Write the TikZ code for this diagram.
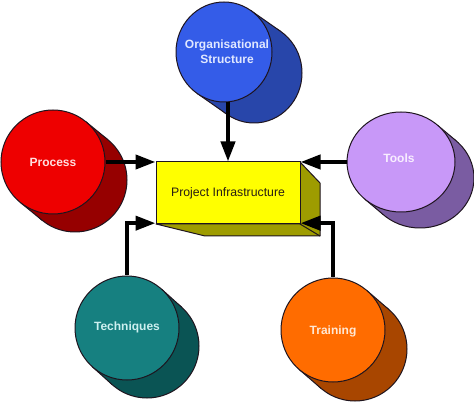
\documentclass[tikz,border=0pt]{standalone}
\usepackage{fontspec}
\setmainfont{Liberation Sans}
\usetikzlibrary{shapes.geometric,arrows.meta,calc}
\definecolor{bluef}{RGB}{52,92,232}
\definecolor{blueb}{RGB}{40,70,170}
\definecolor{redf}{RGB}{238,0,0}
\definecolor{redb}{RGB}{150,0,0}
\definecolor{purf}{RGB}{200,152,248}
\definecolor{purb}{RGB}{122,92,162}
\definecolor{tealf}{RGB}{22,128,128}
\definecolor{tealb}{RGB}{10,84,84}
\definecolor{oraf}{RGB}{255,108,0}
\definecolor{orab}{RGB}{168,70,0}
\definecolor{yelf}{RGB}{255,255,0}
\definecolor{yelb}{RGB}{158,156,0}
\definecolor{edge}{RGB}{30,20,30}
\newcommand\cylback[7]{%
  \pgfmathsetmacro\cylT{atan2(-#4*#5,#3*#6)}%
  \pgfmathsetmacro\cylAx{#1+#3*cos(\cylT)}%
  \pgfmathsetmacro\cylAy{#2+#4*sin(\cylT)}%
  \pgfmathsetmacro\cylBx{#1-#3*cos(\cylT)}%
  \pgfmathsetmacro\cylBy{#2-#4*sin(\cylT)}%
  \filldraw[fill=#7,draw=edge,line width=0.75pt] (#1+#5,#2+#6) ellipse [x radius=#3, y radius=#4];
  \fill[#7] (\cylAx,\cylAy) -- (\cylAx+#5,\cylAy+#6) -- (\cylBx+#5,\cylBy+#6) -- (\cylBx,\cylBy) -- cycle;
  \draw[edge,line width=0.75pt] (\cylAx,\cylAy) -- (\cylAx+#5,\cylAy+#6) (\cylBx,\cylBy) -- (\cylBx+#5,\cylBy+#6);
}
\tikzset{
  frontdisc/.style={ellipse, draw=edge, line width=0.75pt, inner sep=0pt},
  disclabel/.style={font=\fontsize{9}{11.25}\selectfont\bfseries, align=center},
  arr/.style={line width=3pt, line join=miter, -{Triangle[length=15pt,width=10.5pt]}},
}
\begin{document}
\begin{tikzpicture}[x=0.75pt,y=-0.75pt]
\useasboundingbox (0,0) rectangle (474,402);
% backs
\cylback{224}{52}{48}{50}{30}{21}{blueb}
\cylback{53}{162}{52}{52}{22}{18}{redb}
\cylback{401}{162}{54}{50}{19}{16}{purb}
\cylback{127}{328}{52}{52}{20}{18}{tealb}
\cylback{333}{330}{52}{52}{22}{19}{orab}
% fronts
\node[frontdisc, fill=bluef, minimum width=72pt, minimum height=75pt] (org) at (224,52) {};
\node[frontdisc, fill=redf, minimum width=78pt, minimum height=78pt] (proc) at (53,162) {};
\node[frontdisc, fill=purf, minimum width=81pt, minimum height=75pt] (tools) at (401,162) {};
\node[frontdisc, fill=tealf, minimum width=78pt, minimum height=78pt] (tech) at (127,328) {};
\node[frontdisc, fill=oraf, minimum width=78pt, minimum height=78pt] (train) at (333,330) {};
% labels
\node[disclabel, text={rgb,255:red,225;green,232;blue,255}] (orgt) at (227,52) {Organisational\\Structure};
\node[disclabel, text={rgb,255:red,255;green,222;blue,222}] (proct) at (53,162) {Process};
\node[disclabel, text={rgb,255:red,248;green,238;blue,255}] (toolst) at (399,158) {Tools};
\node[disclabel, text={rgb,255:red,205;green,240;blue,240}] (techt) at (127,327) {Techniques};
\node[disclabel, text={rgb,255:red,255;green,232;blue,212}] (traint) at (333,331) {Training};
% box extrusion
\filldraw[fill=yelb, draw=edge, line width=0.75pt, line join=round] (156,224) -- (205,236) -- (320,236) -- (320,183) -- (300,162) -- (300,224) -- cycle;
\draw[edge, line width=0.75pt] (300,224) -- (320,236);
\node[draw=edge, fill=yelf, line width=0.75pt, minimum width=108pt, minimum height=46.5pt, inner sep=0pt, font=\fontsize{9.2}{11}\selectfont, text={rgb,255:red,40;green,30;blue,20}] (box) at (228,193) {Project Infrastructure};
% arrows
\draw[arr] (org.south -| box.north) -- (box.north);
\draw[arr] (proc.east) -- (proc.east -| box.west);
\draw[arr] (tools.west) -- (tools.west -| box.east);
\draw[arr] (tech.north) |- ([yshift=1pt]box.south west);
\draw[arr] (train.north) |- ([yshift=1pt]box.south east);
\end{tikzpicture}
\end{document}
